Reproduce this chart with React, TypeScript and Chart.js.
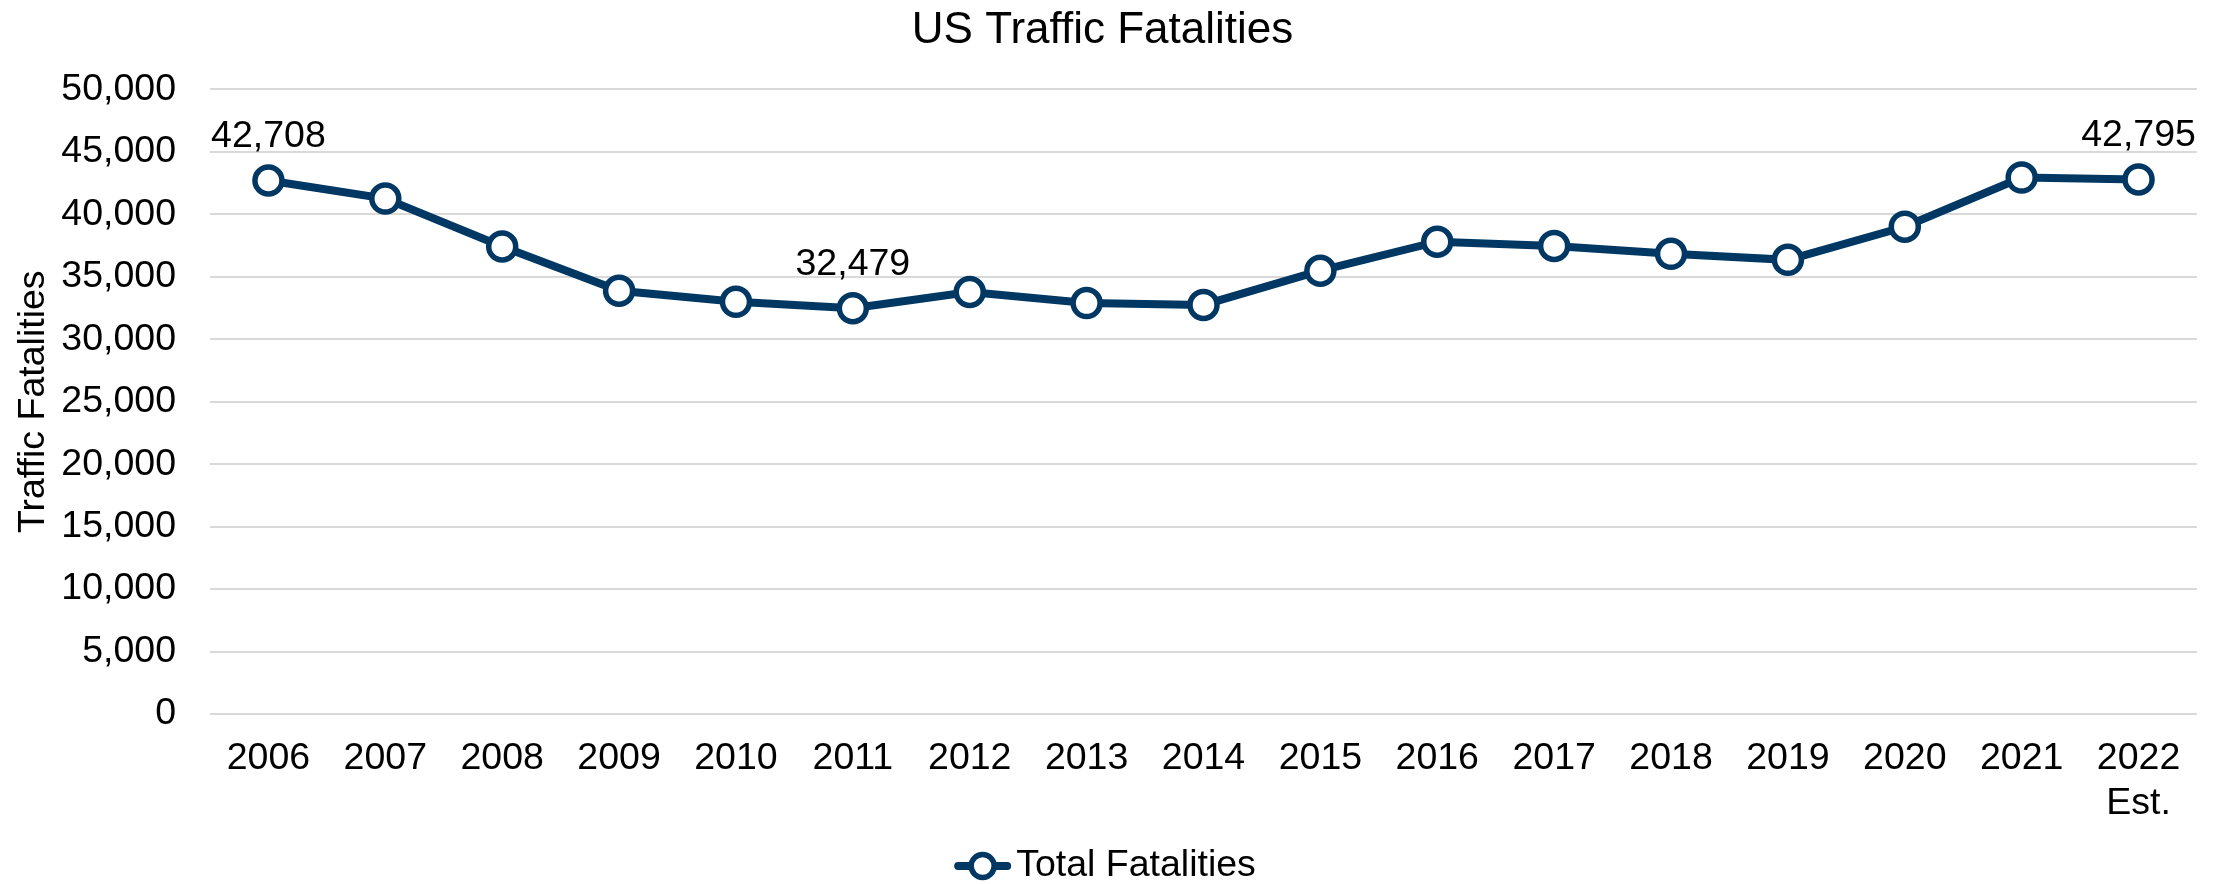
import React, { useEffect, useRef } from 'react';
import { Chart, registerables } from 'chart.js';

Chart.register(...registerables);

// ---- data ----
const years: (string | string[])[] = [
  '2006', '2007', '2008', '2009', '2010', '2011', '2012', '2013', '2014',
  '2015', '2016', '2017', '2018', '2019', '2020', '2021', ['2022', 'Est.'],
];
const totalFatalities = [
  42708, 41259, 37423, 33883, 32999, 32479, 33782, 32893, 32744,
  35484, 37806, 37473, 36835, 36355, 39007, 42939, 42795,
];
const labeledPoints = [0, 5, 16];
const seriesName = 'Total Fatalities';
const chartTitle = 'US Traffic Fatalities';
const yAxisTitle = 'Traffic Fatalities';
const yMin = 0;
const yMax = 50000;
const yStep = 5000;

const NAVY = '#003863';
const FONT = "'Liberation Sans', Arial, sans-serif";
const FS = 37.5;

const labelPlugin = {
  id: 'customLabels',
  afterDatasetsDraw(chart: any) {
    const ctx = chart.ctx;
    const meta = chart.getDatasetMeta(0);
    ctx.save();
    ctx.font = `${FS}px ${FONT}`;
    ctx.fillStyle = '#000';
    ctx.textAlign = 'center';
    ctx.textBaseline = 'alphabetic';
    labeledPoints.forEach((i) => {
      const pt = meta.data[i];
      const v = totalFatalities[i];
      ctx.fillText(v.toLocaleString('en-US'), pt.x, pt.y - 33);
    });
    ctx.restore();
  },
  afterDraw(chart: any) {
    const ctx = chart.ctx;
    ctx.save();
    ctx.font = `${FS}px ${FONT}`;
    const tw = ctx.measureText(seriesName).width;
    const markerW = 57;
    const gap = 5;
    const total = markerW + gap + tw;
    const cx = 1105;
    const cy = 866;
    const x0 = cx - total / 2;
    ctx.strokeStyle = NAVY;
    ctx.lineWidth = 8;
    ctx.lineCap = 'round';
    ctx.beginPath();
    ctx.moveTo(x0 + 4, cy);
    ctx.lineTo(x0 + markerW - 4, cy);
    ctx.stroke();
    ctx.beginPath();
    ctx.arc(x0 + markerW / 2, cy, 11.5, 0, Math.PI * 2);
    ctx.fillStyle = '#fff';
    ctx.fill();
    ctx.lineWidth = 5.5;
    ctx.stroke();
    ctx.fillStyle = '#000';
    ctx.textAlign = 'left';
    ctx.textBaseline = 'middle';
    ctx.fillText(seriesName, x0 + markerW + gap, cy);
    ctx.restore();
  },
};

export default function App() {
  const ref = useRef<HTMLCanvasElement | null>(null);

  useEffect(() => {
    document.body.style.margin = '0';
    const canvas = ref.current;
    if (!canvas) return;
    const chart = new Chart(canvas, {
      type: 'line',
      data: {
        labels: years as any,
        datasets: [
          {
            label: seriesName,
            data: totalFatalities,
            borderColor: NAVY,
            borderWidth: 8,
            pointRadius: 13.5,
            pointHoverRadius: 13.5,
            pointBorderWidth: 5.5,
            pointBorderColor: NAVY,
            pointBackgroundColor: '#ffffff',
            tension: 0,
            fill: false,
          },
        ],
      },
      options: {
        animation: false,
        responsive: false,
        maintainAspectRatio: false,
        devicePixelRatio: 1,
        layout: { padding: { left: 8, right: 27, top: 0, bottom: 36 } },
        plugins: {
          legend: { display: false },
          tooltip: { enabled: false },
          title: {
            display: true,
            text: chartTitle,
            color: '#000',
            font: { family: FONT, size: 44, weight: 'normal' as any },
            padding: { top: 4, bottom: 32.6 },
          },
        },
        scales: {
          x: {
            offset: true,
            grid: { display: false, drawTicks: false, offset: true },
            border: { display: false },
            ticks: {
              color: '#000',
              font: { family: FONT, size: FS },
              padding: 22,
              maxRotation: 0,
              autoSkip: false,
            },
          },
          y: {
            min: yMin,
            max: yMax,
            grid: { color: '#D9D9D9', lineWidth: 2, drawTicks: false },
            border: { display: false },
            ticks: {
              stepSize: yStep,
              color: '#000',
              font: { family: FONT, size: FS },
              padding: 34,
              callback: (v: any) => Number(v).toLocaleString('en-US'),
            },
            title: {
              display: true,
              text: yAxisTitle,
              color: '#000',
              font: { family: FONT, size: FS, lineHeight: 1 },
              padding: { top: 7, bottom: -25.2 },
            },
          },
        },
      },
      plugins: [labelPlugin],
    });
    return () => chart.destroy();
  }, []);

  return (
    <div style={{ width: 2224, height: 884, background: '#fff' }}>
      <canvas ref={ref} width={2224} height={884} style={{ display: 'block', width: 2224, height: 884 }} />
    </div>
  );
}
